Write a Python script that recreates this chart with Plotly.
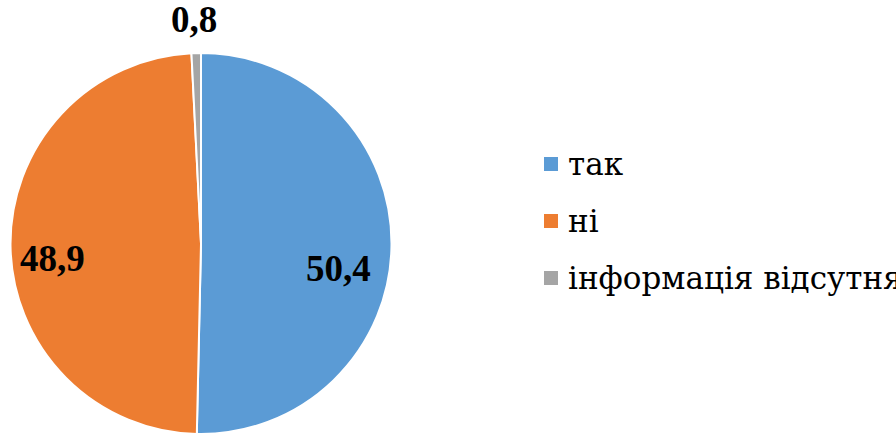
import plotly.graph_objects as go

categories = ["так", "ні", "інформація відсутня"]
values = [50.4, 48.9, 0.8]
colors = ["#5B9BD5", "#ED7D31", "#A5A5A5"]

W, H = 896, 434
TOP = 53
SERIF = "Times New Roman"
LEGEND_SERIF = "DejaVu Serif"

def fmt(v):
    return f"{v:.1f}".replace(".", ",")

def px_x(px):
    return px / W

def px_y(py):
    return (H - py) / (H - TOP)

fig = go.Figure()
fig.add_trace(go.Pie(
    labels=categories,
    values=values,
    sort=False,
    direction="clockwise",
    rotation=0,
    marker=dict(colors=colors, line=dict(color="white", width=2)),
    textinfo="none",
    hoverinfo="label+value",
    domain=dict(x=[10 / W, 392 / W], y=[0, 1]),
    showlegend=False,
))

# data labels (text derived from the values)
label_pos = [(338, 268), (52, 258), (194, 20)]
for v, (px, py) in zip(values, label_pos):
    fig.add_annotation(
        text=fmt(v), x=px_x(px), y=px_y(py),
        xref="paper", yref="paper", showarrow=False,
        xanchor="center", yanchor="middle",
        font=dict(family=SERIF, size=37, color="black", weight="bold"),
    )

# legend (keys + category names)
legend_rows = [164, 221, 278]
for cat, col, row in zip(categories, colors, legend_rows):
    fig.add_shape(
        type="rect", xref="paper", yref="paper",
        x0=px_x(544), x1=px_x(558), y0=px_y(row + 7), y1=px_y(row - 7),
        fillcolor=col, line=dict(width=0),
    )
    fig.add_annotation(
        text=cat, x=px_x(566), y=px_y(row),
        xref="paper", yref="paper", showarrow=False,
        xanchor="left", yanchor="middle",
        font=dict(family=LEGEND_SERIF, size=31, color="black"),
    )

fig.update_layout(
    width=W, height=H,
    font=dict(family=SERIF, color="black"),
    margin=dict(l=0, r=0, t=TOP, b=0, autoexpand=False),
    paper_bgcolor="white", plot_bgcolor="white",
    showlegend=False,
)

fig.write_html("out.html", post_script="document.body.style.margin='0';",
               config={"displayModeBar": False})
